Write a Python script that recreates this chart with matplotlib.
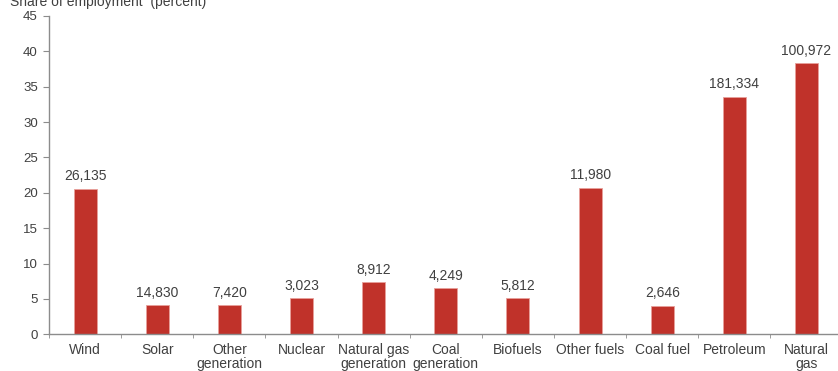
import matplotlib
matplotlib.use("Agg")
import matplotlib.pyplot as plt
import numpy as np

categories = ["Wind", "Solar", "Other\ngeneration", "Nuclear", "Natural gas\ngeneration",
              "Coal\ngeneration", "Biofuels", "Other fuels", "Coal fuel", "Petroleum", "Natural\ngas"]
shares = [20.6, 4.1, 4.1, 5.1, 7.35, 6.5, 5.1, 20.7, 4.0, 33.6, 38.3]
labels = ["26,135", "14,830", "7,420", "3,023", "8,912", "4,249", "5,812", "11,980", "2,646",
          "181,334", "100,972"]
yticks = [0, 5, 10, 15, 20, 25, 30, 35, 40, 45]

plt.rcParams['font.family'] = ['Liberation Sans', 'DejaVu Sans']
txt = '#404040'
spine = '#8c8c8c'

fig = plt.figure(figsize=(8.38, 3.71), dpi=100)
ax = fig.add_axes([49/838, 36.7/371, 793.6/838, 318.3/371])
x = np.arange(len(categories))
ax.bar(x, shares, width=0.32, color='#C0322A', edgecolor='#E8A09A', linewidth=0.6)
for xi, v, l in zip(x, shares, labels):
    ax.annotate(l, (xi, v), xytext=(0, 4), textcoords='offset points',
                ha='center', va='bottom', fontsize=10, color=txt)

ax.set_xlim(-0.5, len(categories) - 0.5)
ax.set_ylim(0, 45)
ax.set_yticks(yticks)
ax.set_xticks(x)
ax.set_xticklabels(categories, fontsize=10, color=txt, linespacing=1.05)
ax.set_xticks(np.arange(-0.5, len(categories), 1), minor=True)
ax.tick_params(axis='x', which='major', length=0, pad=6)
ax.tick_params(axis='x', which='minor', length=3, color=spine, direction='out')
ax.tick_params(axis='y', length=4, color=spine, labelsize=9.5, labelcolor=txt, pad=4)
for s in ['top', 'right']:
    ax.spines[s].set_visible(False)
for s in ['left', 'bottom']:
    ax.spines[s].set_color(spine)
    ax.spines[s].set_linewidth(1.0)

fig.text(10/838, 1 - 6/371, "Share of employment  (percent)", fontsize=10, color=txt,
         ha='left', va='baseline')

fig.savefig("out.png", dpi=100)
